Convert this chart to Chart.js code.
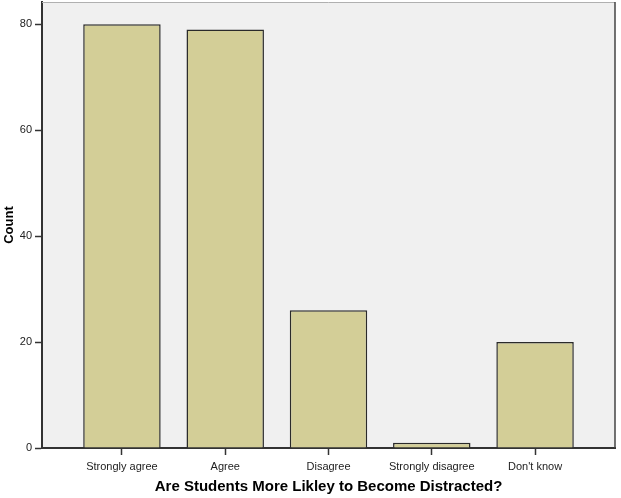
<!DOCTYPE html>
<html>
<head>
    <title>Are Students More Likley to Become Distracted?</title>
    <script src="https://cdn.jsdelivr.net/npm/chart.js"></script>
    <style>
        html, body { margin: 0; padding: 0; background: #fff; }
        #wrap { width: 621px; height: 498px; position: relative; }
    </style>
</head>
<body>
<div id="wrap">
    <canvas id="chart"></canvas>
</div>
<script>
    var categories = ["Strongly agree", "Agree", "Disagree", "Strongly disagree", "Don't know"];
    var counts = [80, 79, 26, 1, 20];
    var yTicks = [0, 20, 40, 60, 80];

    // frame around plot area, like the SPSS output
    var frame = {
        id: 'frame',
        beforeDraw: function(chart) {
            var a = chart.chartArea, c = chart.ctx;
            c.save();
            c.fillStyle = '#f0f0f0';
            c.fillRect(a.left, a.top, a.right - a.left, a.bottom - a.top);
            c.restore();
        },
        afterDraw: function(chart) {
            var a = chart.chartArea, c = chart.ctx;
            c.save();
            c.lineWidth = 1;
            c.strokeStyle = '#b0b0b0';
            c.beginPath(); c.moveTo(a.left, a.top + 0.5); c.lineTo(a.right, a.top + 0.5); c.stroke();
            c.strokeStyle = '#444';
            c.lineWidth = 1.5;
            c.beginPath(); c.moveTo(a.right, a.top); c.lineTo(a.right, a.bottom); c.stroke();
            c.restore();
        }
    };

    function noPad(axis) {
        axis.paddingTop = 0; axis.paddingBottom = 0;
        axis.paddingLeft = 0; axis.paddingRight = 0;
    }

    var ctx = document.getElementById('chart').getContext('2d');
    var chart = new Chart(ctx, {
        type: 'bar',
        data: {
            datasets: [{
                label: 'Count',
                data: counts.map(function(v, i) { return {x: i, y: v}; }),
                backgroundColor: '#d3ce97',
                borderColor: '#2a2a2a',
                borderWidth: 1.5,
                barPercentage: 0.75,
                categoryPercentage: 1.0
            }]
        },
        plugins: [frame],
        options: {
            responsive: true,
            maintainAspectRatio: false,
            animation: false,
            layout: { padding: { top: 2, right: 6, left: 0, bottom: 0 } },
            plugins: {
                legend: { display: false },
                tooltip: { enabled: false }
            },
            scales: {
                x: {
                    type: 'linear',
                    offset: false,
                    min: -0.774,
                    max: 4.774,
                    afterBuildTicks: function(axis) {
                        axis.ticks = categories.map(function(c, i) { return {value: i}; });
                    },
                    afterFit: function(axis) { axis.height = 50; noPad(axis); },
                    ticks: {
                        autoSkip: false,
                        maxRotation: 0,
                        padding: 5,
                        color: '#222',
                        font: { family: 'Liberation Sans', size: 11 },
                        callback: function(v) { return categories[v]; }
                    },
                    grid: {
                        offset: false,
                        drawOnChartArea: false,
                        tickLength: 7,
                        tickWidth: 1.5,
                        color: '#333'
                    },
                    border: { color: '#333', width: 2 },
                    title: {
                        display: true,
                        text: 'Are Students More Likley to Become Distracted?',
                        color: '#000',
                        padding: { top: 0, bottom: 2 },
                        font: { family: 'Liberation Sans', size: 15, weight: 'bold' }
                    }
                },
                y: {
                    min: 0,
                    max: 84.2,
                    afterBuildTicks: function(axis) {
                        axis.ticks = yTicks.map(function(v) { return {value: v}; });
                    },
                    afterFit: function(axis) { axis.width = 42; noPad(axis); },
                    ticks: {
                        padding: 3,
                        color: '#222',
                        font: { family: 'Liberation Sans', size: 11 }
                    },
                    grid: {
                        drawOnChartArea: false,
                        tickLength: 7,
                        tickWidth: 1.5,
                        color: '#333'
                    },
                    border: { color: '#333', width: 2 },
                    title: {
                        display: true,
                        text: 'Count',
                        color: '#000',
                        padding: { top: 2, bottom: 0 },
                        font: { family: 'Liberation Sans', size: 13, weight: 'bold' }
                    }
                }
            }
        }
    });
</script>
</body>
</html>
